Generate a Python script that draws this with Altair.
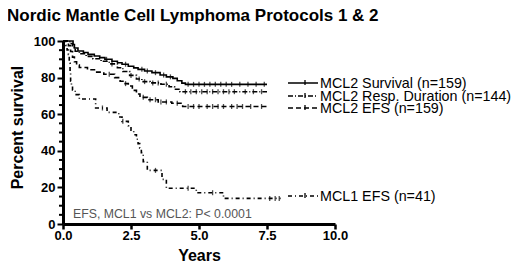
import altair as alt
import pandas as pd

FONT = "Liberation Sans"

# ---- data ----
series_names = ["MCL2 Survival", "MCL2 Resp. Duration", "MCL2 EFS", "MCL1 EFS"]
legend_labels = ["MCL2 Survival (n=159)", "MCL2 Resp. Duration (n=144)",
                 "MCL2 EFS (n=159)", "MCL1 EFS (n=41)"]

surv_t = [0, 0.37, 0.42, 0.55, 0.75, 0.92, 1.15, 1.35, 1.54, 1.8, 2.0, 2.17, 2.4,
          2.6, 2.76, 3.0, 3.27, 3.57, 3.8, 4.04, 4.2, 4.37, 4.5, 7.5]
surv_v = [100, 98.1, 96.2, 94.5, 93.7, 92.7, 91.8, 90.9, 90.0, 88.9, 88.1, 87.3, 86.2,
          85.3, 84.5, 83.6, 82.7, 81.4, 80.4, 79.6, 78.3, 77.0, 76.3, 76.3]

resp_t = [0, 0.25, 0.35, 0.45, 0.6, 0.85, 1.1, 1.4, 1.7, 2.0, 2.2, 2.45, 2.7, 2.9,
          3.2, 3.6, 3.9, 4.1, 4.3, 7.5]
resp_v = [100, 98.6, 96.5, 94.4, 93.0, 91.6, 90.3, 88.9, 87.5, 85.4, 83.3, 81.2, 79.2,
          77.8, 77.1, 76.4, 75.0, 73.6, 72.3, 72.3]

efs_t = [0, 0.2, 0.28, 0.35, 0.42, 0.5, 0.6, 0.9, 1.2, 1.5, 1.9, 2.1, 2.25, 2.4, 2.55,
         2.7, 2.83, 3.1, 3.5, 4.0, 4.4, 7.5]
efs_v = [100, 97.5, 94.3, 91.2, 88.7, 86.8, 85.5, 84.3, 83.0, 81.8, 80.0, 78.0, 76.7,
         75.4, 73.0, 71.0, 69.2, 67.9, 66.7, 66.0, 64.2, 64.2]

mcl1_t = [0, 0.1, 0.15, 0.2, 0.23, 0.26, 0.28, 0.31, 0.35, 0.45, 0.6, 1.2, 1.62, 2.05,
          2.17, 2.4, 2.5, 2.6, 2.7, 2.76, 2.82, 2.88, 2.95, 3.1, 3.64, 3.8, 4.9, 5.9, 8.0]
mcl1_v = [100, 97.6, 95.1, 92.7, 87.8, 82.9, 78.0, 75.6, 73.2, 70.7, 68.3, 63.4, 61.0,
          58.5, 56.1, 53.7, 51.2, 48.8, 46.3, 43.9, 41.5, 39.0, 34.1, 29.3, 24.4, 19.5,
          17.1, 14.0, 14.0]

# censoring times (tick marks)
surv_c = [1.6, 2.3, 2.9, 3.1, 3.4, 3.7, 3.95, 4.6, 4.8, 5.0, 5.2, 5.4, 5.6, 5.8, 6.0, 6.2, 6.5, 6.8, 7.1, 7.4]
resp_c = [1.8, 2.5, 2.8, 3.0, 3.3, 3.5, 3.8, 4.5, 4.7, 4.9, 5.1, 5.3, 5.5, 5.7, 5.9, 6.1, 6.3, 6.7, 7.0, 7.3]
efs_c = [1.7, 2.3, 2.95, 3.2, 3.4, 3.6, 3.8, 4.2, 4.6, 4.8, 5.0, 5.3, 5.5, 5.7, 5.9, 6.2, 6.4, 6.6, 6.9, 7.3]
mcl1_c = [1.45, 2.2, 3.4, 4.6, 5.5, 7.6, 7.8, 7.95]

x_ticks = [0, 2.5, 5, 7.5, 10]
y_ticks = [0, 20, 40, 60, 80, 100]
y_minor = [5, 10, 15, 25, 30, 35, 45, 50, 55, 65, 70, 75, 85, 90, 95]

series_t = [surv_t, resp_t, efs_t, mcl1_t]
series_v = [surv_v, resp_v, efs_v, mcl1_v]
series_c = [surv_c, resp_c, efs_c, mcl1_c]
dashes = [[1, 0], [5, 2, 1, 2], [5, 3], [4, 3, 1, 3]]


def step_at(ts, vs, t):
    v = vs[0]
    for ti, vi in zip(ts, vs):
        if ti <= t:
            v = vi
    return v


rows = []
cens = []
for name, ts, vs, cs in zip(series_names, series_t, series_v, series_c):
    for t, v in zip(ts, vs):
        rows.append({"series": name, "t": t, "v": v})
    for c in cs:
        cens.append({"series": name, "t": c, "v": step_at(ts, vs, c)})
df = pd.DataFrame(rows)
cdf = pd.DataFrame(cens)
mdf = pd.DataFrame({"v": y_minor})

xscale = alt.Scale(domain=[0, 10], nice=False)
yscale = alt.Scale(domain=[0, 100], nice=False)

x_axis = alt.Axis(values=x_ticks, format=".1f", title="Years", labelFontWeight="bold",
                  labelFontSize=13, labelFont=FONT, labelColor="black", labelFlush=False,
                  labelOverlap=False, labelPadding=0, tickSize=5, tickWidth=2.5,
                  tickColor="black", domainWidth=3, domainColor="black", grid=False,
                  titleFont=FONT, titleFontSize=16, titleFontWeight="bold",
                  titleColor="black", titlePadding=5)
y_axis = alt.Axis(values=y_ticks, format="d", title="Percent survival", labelFontWeight="bold",
                  labelFontSize=13, labelFont=FONT, labelColor="black", labelFlush=False,
                  labelOverlap=False, labelPadding=2, tickSize=6, tickWidth=2,
                  tickColor="black", domainWidth=3, domainColor="black",
                  grid=False, titleFont=FONT, titleFontSize=16, titleFontWeight="bold",
                  titleColor="black", titlePadding=8, titleY=86)

dash_scale = alt.Scale(domain=series_names, range=dashes)

lines = alt.Chart(df).mark_line(interpolate="step-after", color="black", strokeWidth=1.6).encode(
    x=alt.X("t:Q", scale=xscale, axis=x_axis),
    y=alt.Y("v:Q", scale=yscale, axis=y_axis),
    strokeDash=alt.StrokeDash("series:N", scale=dash_scale, legend=None),
)

ticks = alt.Chart(cdf).mark_tick(orient="vertical", size=5, thickness=1.3, color="black").encode(
    x=alt.X("t:Q", scale=xscale, axis=x_axis),
    y=alt.Y("v:Q", scale=yscale, axis=y_axis),
)

minor = alt.Chart(mdf).mark_rule(color="black", strokeWidth=2).encode(
    y=alt.Y("v:Q", scale=yscale, axis=y_axis), x=alt.value(-4), x2=alt.value(0))

layers = [lines, ticks, minor]

# legend drawn by hand next to curve ends
legend_y = [42, 55, 67, 155]
for lab, dsh, yy in zip(legend_labels, dashes, legend_y):
    ld = pd.DataFrame({"label": [lab]})
    layers.append(alt.Chart(ld).mark_rule(color="black", strokeWidth=1.6, strokeDash=dsh).encode(
        x=alt.value(225), x2=alt.value(255), y=alt.value(yy)))
    layers.append(alt.Chart(ld).mark_rule(color="black", strokeWidth=1.3).encode(
        x=alt.value(242), y=alt.value(yy - 3), y2=alt.value(yy + 2)))
    layers.append(alt.Chart(ld).mark_text(align="left", baseline="middle", font=FONT,
                                          fontSize=14.3, color="black").encode(
        x=alt.value(257), y=alt.value(yy + 0.5), text="label:N"))

annot = pd.DataFrame({"label": ["EFS, MCL1 vs MCL2: P< 0.0001"]})
layers.append(alt.Chart(annot).mark_text(align="left", baseline="middle", font=FONT,
                                         fontSize=12.3, color="#555555").encode(
    x=alt.value(10), y=alt.value(173), text="label:N"))

title = pd.DataFrame({"label": ["Nordic Mantle Cell Lymphoma Protocols 1 & 2"]})
layers.append(alt.Chart(title).mark_text(align="left", baseline="alphabetic", font=FONT,
                                         fontSize=17, fontWeight="bold", color="black").encode(
    x=alt.value(-56), y=alt.value(-20), text="label:N"))

chart = alt.layer(*layers).properties(
    width=272, height=183,
    background="white",
    autosize=alt.AutoSizeParams(type="none"),
    padding={"left": 55, "top": 33, "right": 177, "bottom": 38},
).configure_view(stroke=None)

chart.save("out.html", embed_options={"renderer": "svg", "actions": False})
